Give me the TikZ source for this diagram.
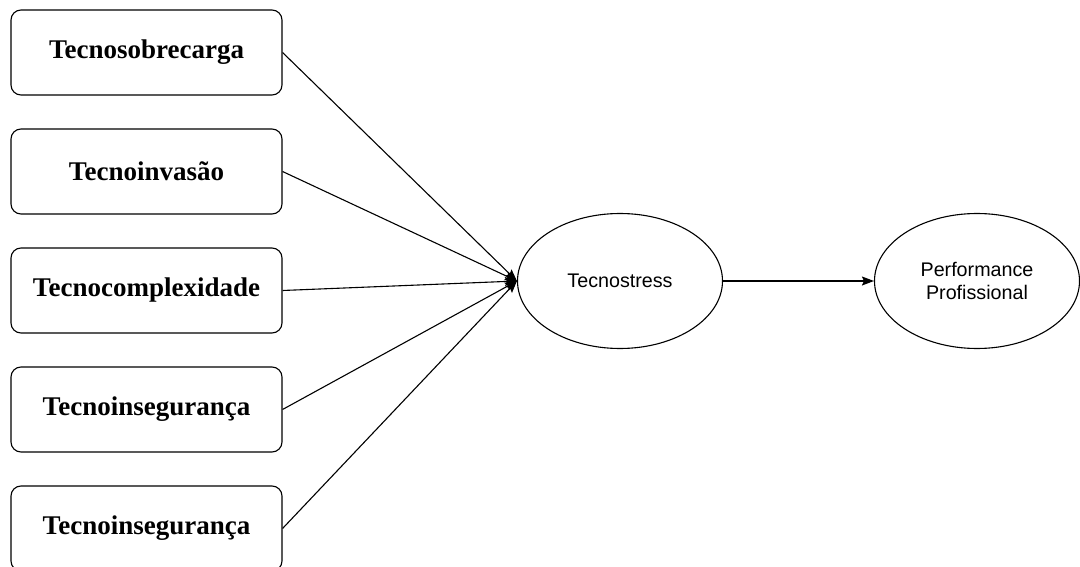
\documentclass[tikz,border=0pt]{standalone}
\usepackage{fontspec}
\setmainfont{Liberation Serif}
\newfontfamily\helv{Liberation Sans}
\usetikzlibrary{arrows.meta,shapes.geometric}
\begin{document}
\begin{tikzpicture}[x=1pt,y=-1pt,
  factor/.style={draw, rounded corners=10pt, line width=1.1pt, minimum width=271pt, minimum height=85pt,
    font=\fontsize{27}{31}\selectfont\bfseries, inner sep=0pt},
  construct/.style={draw, ellipse, line width=1.1pt, minimum width=205pt, minimum height=135pt,
    font=\helv\fontsize{19.7}{23.5}\selectfont, align=center, inner sep=0pt},
  link/.style={line width=1.1pt, -{Stealth[length=12pt,width=9pt,inset=2pt]}}]
\useasboundingbox (0,0) rectangle (1080,567);
\clip (0,0) rectangle (1080,567);
\fill[white] (0,0) rectangle (1080,567);

% technostress creators
\node[factor] (f1) at (146.5,52.5)  {Tecnosobrecarga};
\node[factor] (f2) at (146.5,171.5) {Tecnoinvasão};
\node[factor] (f3) at (146.5,290.5) {Tecnocomplexidade};
\node[factor] (f4) at (146.5,409.5) {Tecnoinsegurança};
\node[factor] (f5) at (146.5,528.5) {Tecnoinsegurança};

% constructs
\node[construct] (ts) at (620,281) {Tecnostress};
\node[construct] (pp) at (977,281) {Performance\\Profissional};

% paths
\foreach \f in {f1,f2,f3,f4,f5}
  \draw[link] (\f.east) -- (ts.west);
\draw[link] (ts.east) -- (pp.west);
\end{tikzpicture}
\end{document}
